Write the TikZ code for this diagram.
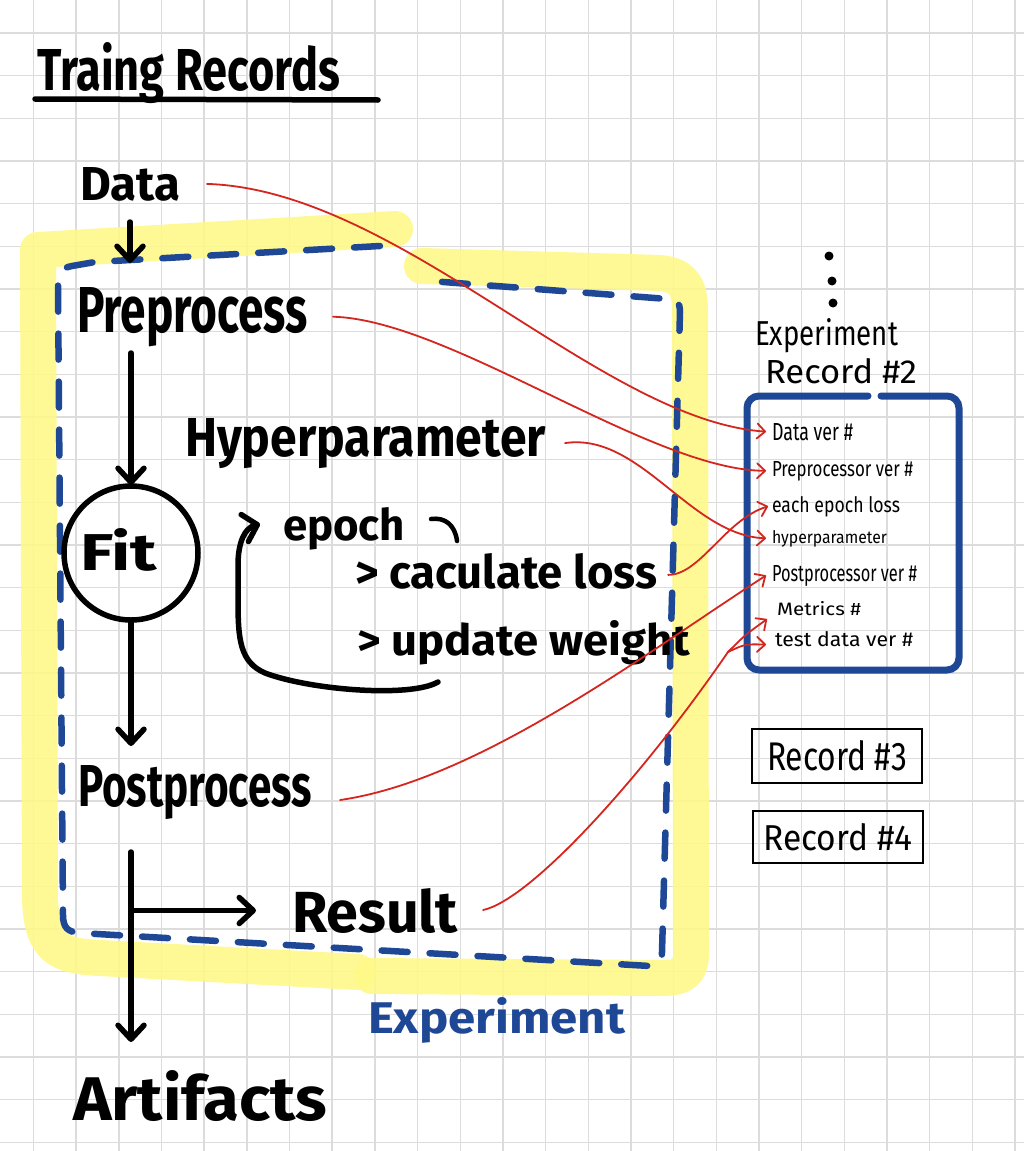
\documentclass[tikz,border=0pt]{standalone}
\usepackage{fontspec}
\setmainfont{Fira Sans}
\usetikzlibrary{arrows.meta}
\newcommand{\hw}[3]{\resizebox{#1pt}{#2pt}{#3}}
\definecolor{gridc}{RGB}{220,220,220}
\definecolor{hilite}{RGB}{254,249,135}
\definecolor{dblue}{RGB}{30,72,150}
\definecolor{rline}{RGB}{212,38,30}
\begin{document}
\begin{tikzpicture}[x=1pt,y=-1pt,
  lbl/.style={inner sep=0pt, outer sep=0pt, anchor=base west, font=\bfseries},
  small/.style={inner sep=0pt, outer sep=0pt, anchor=base west, font=\normalfont},
  gridline/.style={draw=gridc, line width=1.4pt},
  pen/.style={draw=black, line width=5.5pt, line cap=round, line join=round},
  arr/.style={pen, -{Straight Barb[round,length=14pt,width=26pt]}},
  looparr/.style={pen, -{Straight Barb[round,length=13pt,width=28pt]}},
  band/.style={draw=hilite, draw opacity=0.88, line width=36pt, line cap=round, line join=round},
  dashframe/.style={draw=dblue, line width=6.5pt, line cap=round, dash pattern=on 26pt off 22pt},
  rl/.style={draw=rline, line width=1.8pt, line cap=round},
  rarr/.style={rl, -{Straight Barb[round,length=8pt,width=15pt]}},
  recbox/.style={draw=black, line width=2.2pt, inner sep=0pt, minimum width=170pt, font=\normalfont},
  ringnode/.style={pen, circle, minimum size=134pt, inner sep=0pt, outer sep=0pt}
]
\useasboundingbox (0,0) rectangle (1024,1151);
\fill[white] (0,0) rectangle (1024,1151);
% grid
\foreach \i in {0,...,23} {\draw[gridline] ({33.5+42.67*\i},0) -- ({33.5+42.67*\i},1151);}
\foreach \j in {0,...,26} {\draw[gridline] (0,{33+42.67*\j}) -- (1024,{33+42.67*\j});}
% yellow highlight
\draw[band] (395,229) -- (38,250) -- (40,900) .. controls (42,950) and (60,956) .. (100,958) -- (358,972);
\draw[band] (422,266) -- (660,273) .. controls (685,275) and (690,290) .. (690,310) -- (691,955) .. controls (690,975) and (680,978) .. (660,978) -- (372,976);
% blue dashed frame
\draw[dashframe] (380,246) -- (95,262) -- (72,266) .. controls (61,268) and (58,273) .. (58,285) -- (63,915) .. controls (63,928) and (68,932) .. (80,933) -- (650,966) .. controls (660,966) and (662,962) .. (662,952) -- (680,312) .. controls (680,302) and (676,299) .. (668,299) -- (430,281);

% title
\node[lbl] (title) at (37,90) {\hw{303}{48}{Traing Records}};
\draw[pen] ([shift={(-2,9)}]title.base west) -- ([shift={(38,10)}]title.base east);

% main flow
\node[lbl] (data) at (80,200) {\hw{100}{33}{Data}};
\node[lbl] (pre) at (77,332) {\hw{231}{45}{Preprocess}};
\node[lbl] (hyp) at (185,456) {\hw{361}{38}{Hyperparameter}};
\node[ringnode] (fit) at (131,553) {};
\node[lbl] (fitlbl) at (80,570) {\hw{77}{42}{Fit}};
\node[lbl] (post) at (78,806) {\hw{234}{41}{Postprocess}};
\node[lbl] (res) at (292,932) {\hw{166}{44}{Result}};
\node[lbl] (arti) at (73,1120) {\hw{254}{50}{Artifacts}};
\node[lbl, text=dblue] (exp) at (368,1033) {\hw{257}{36}{Experiment}};

\draw[arr, shorten <=22pt, shorten >=24pt] (data.base) -- (data.base |- pre.north);
\draw[arr, shorten <=21pt, shorten >=1pt] (pre.base -| fit.north) -- (fit.north);
\draw[arr, shorten <=2pt, shorten >=19pt] (fit.south) -- (fit.south |- post.north);
\draw[arr, shorten <=46pt, shorten >=28pt] (post.base -| fit.south) -- (fit.south |- arti.north);
\coordinate (br) at (fit.south |- res.west);
\draw[arr, shorten >=36pt] (br) -- (br -| res.west);

% training loop
\node[lbl] (epoch) at (283,540) {\hw{122}{33}{epoch}};
\node[lbl] (calc) at (355,588) {\hw{302}{35}{> caculate loss}};
\node[lbl] (upd) at (357,655) {\hw{333}{35}{> update weight}};
\coordinate (loopstart) at (438,682);
\coordinate (loopend) at (260,524);
\draw[looparr] (loopstart) .. controls (410,698) and (310,690) .. (265,673) .. controls (240,662) and (238,640) .. (238,600) -- (238,565) .. controls (238,542) and (245,528) .. (loopend);
\draw[pen, line width=4.5pt] ([shift={(26,-21)}]epoch.base east) .. controls ([shift={(40,-23)}]epoch.base east) and ([shift={(50,-15)}]epoch.base east) .. ([shift={(52,1)}]epoch.base east);

% experiment record #2
\fill (829,256) circle (4.5);
\fill (832,281) circle (4.5);
\fill (833,303) circle (4.5);
\node[small] (er1) at (755,345) {\hw{143}{27}{Experiment}};
\node[small] (er2) at (765,383) {\hw{152}{25}{Record \#2}};
\draw[dblue, line width=7pt, rounded corners=12pt, line cap=round] (868,396) -- (747,396) -- (747,670) -- (959,670) -- (959,396) -- (881,396);
\node[small] (dv) at (772,440) {\hw{81}{17}{Data ver \#}};
\node[small] (ppv) at (772,476) {\hw{141}{15}{Preprocessor ver \#}};
\node[small] (eel) at (772,512) {\hw{128}{16}{each epoch loss}};
\node[small] (hp) at (772,543) {\hw{115}{13}{hyperparameter}};
\node[small] (pov) at (772,581) {\hw{145}{16}{Postprocessor ver \#}};
\node[small] (met) at (777,615) {\hw{84}{14}{Metrics \#}};
\node[small] (tdv) at (775,646) {\hw{138}{15}{test data ver \#}};

% other records
\node[recbox, minimum height=54pt] (rec3) at (837,756) {\hw{140}{30}{Record \#3}};
\node[recbox, minimum height=52pt] (rec4) at (838,837) {\hw{149}{27}{Record \#4}};

% red connectors
\draw[rarr] ([xshift=27pt]data.east) .. controls (400,190) and (600,420) .. ([xshift=-6pt]dv.west);
\draw[rarr] ([xshift=25pt]pre.east) .. controls (450,320) and (650,470) .. ([xshift=-6pt]ppv.west);
\draw[rarr] ([xshift=19pt]hyp.east) .. controls (640,432) and (690,535) .. ([xshift=-6pt]hp.west);
\draw[rarr] ([shift={(11,4)}]calc.east) .. controls (700,575) and (725,520) .. ([xshift=-4pt]eel.west);
\draw[rarr] ([shift={(28,-6)}]post.base east) .. controls (480,780) and (650,650) .. ([xshift=-6pt]pov.west);
\coordinate (fork) at (728,652);
\draw[rl] ([shift={(25,-22)}]res.base east) .. controls (530,900) and (640,780) .. (fork);
\draw[rarr] (fork) .. controls (745,635) .. ([shift={(-10,11)}]met.west);
\draw[rarr] (fork) .. controls (745,644) .. ([shift={(-9,6)}]tdv.west);
\end{tikzpicture}
\end{document}
